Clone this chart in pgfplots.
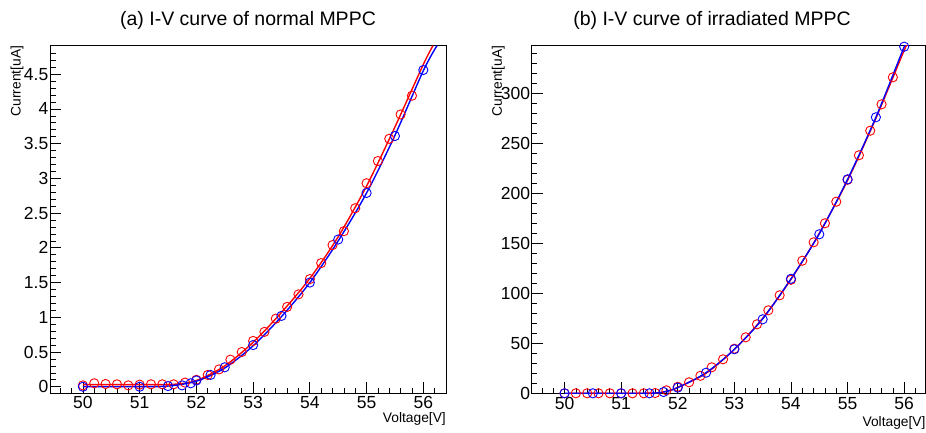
\documentclass[border=0pt]{standalone}
\usepackage{fontspec}
\setmainfont{Liberation Sans}
\usepackage{pgfplots}
\pgfplotsset{compat=1.18}

\pgfplotsset{
  rootstyle/.style={
    scale only axis,
    axis line style={black,line width=0.8pt},
    tick align=inside,
    xtick pos=bottom, ytick pos=left,
    major tick length=11pt, minor tick length=5.5pt,
    every tick/.style={black,line width=0.7pt},
    tick label style={font=\fontsize{17.5}{20}\selectfont},
    /pgf/number format/assume math mode=true,
    /pgf/number format/fixed,
    xticklabel style={inner ysep=0pt,yshift=-3.5pt},
    yticklabel style={inner xsep=1.5pt},
    label style={font=\fontsize{13.8}{16}\selectfont},
    xtick={50,51,52,53,54,55,56},
    minor xtick={49.6,49.8,50.2,50.4,50.6,50.8,51.2,51.4,51.6,51.8,52.2,52.4,52.6,52.8,53.2,53.4,53.6,53.8,54.2,54.4,54.6,54.8,55.2,55.4,55.6,55.8,56.2,56.4},
    xlabel={Voltage[V]}, ylabel={Current[uA]},
  },
  redpts/.style={only marks,mark=o,mark size=4.6pt,red,mark options={line width=0.9pt}},
  bluepts/.style={only marks,mark=o,mark size=4.6pt,blue,mark options={line width=0.9pt}},
  redfit/.style={red,line width=1.4pt,smooth,no marks},
  bluefit/.style={blue,line width=1.4pt,smooth,no marks},
}

\begin{document}
\begin{tikzpicture}
\useasboundingbox (0,0) rectangle (926pt,432pt);

\node[anchor=base,font=\fontsize{19.5}{22}\selectfont] at (248pt,406.7pt) {(a) I-V curve of normal MPPC};
\node[anchor=base,font=\fontsize{19.5}{22}\selectfont] at (712pt,406.7pt) {(b) I-V curve of irradiated MPPC};

% (a) normal
\begin{axis}[rootstyle,
  at={(50pt,39pt)}, anchor=south west,
  width=396pt, height=347.3pt,
  xmin=49.42, xmax=56.40, ymin=-0.09, ymax=4.91,
  ytick={0,0.5,1,1.5,2,2.5,3,3.5,4,4.5},
  minor ytick={0.1,0.2,0.3,0.4,0.6,0.7,0.8,0.9,1.1,1.2,1.3,1.4,1.6,1.7,1.8,1.9,2.1,2.2,2.3,2.4,2.6,2.7,2.8,2.9,3.1,3.2,3.3,3.4,3.6,3.7,3.8,3.9,4.1,4.2,4.3,4.4,4.6,4.7,4.8},
  xlabel style={at={(axis description cs:1,0)},anchor=base east,inner sep=0pt,yshift=-29.5pt},
  ylabel style={at={(axis description cs:-0.0833,1)},anchor=east,inner sep=0pt},
]
\addplot[redfit] coordinates {
  (50,0.03)(51,0.03)(51.6,0.035)(52,0.09)(52.5,0.30)(53,0.64)(53.5,1.07)(54,1.56)
  (54.5,2.16)(55,2.89)(55.5,3.74)(56,4.64)(56.17,4.91)};
\addplot[redpts] coordinates {
  (50,0.02)(50.2,0.05)(50.4,0.04)(50.6,0.035)(50.8,0.02)(51.0,0.03)(51.2,0.035)(51.4,0.035)
  (51.6,0.035)(51.8,0.06)(52.0,0.1)(52.2,0.17)(52.4,0.25)(52.6,0.39)(52.8,0.5)(53.0,0.66)
  (53.2,0.79)(53.4,0.98)(53.6,1.15)(53.8,1.33)(54.0,1.55)(54.2,1.78)(54.4,2.04)(54.6,2.24)
  (54.8,2.57)(55.0,2.93)(55.2,3.25)(55.4,3.57)(55.6,3.92)(55.8,4.19)};
\addplot[bluefit] coordinates {
  (50,0)(51,0)(51.5,0.01)(52,0.08)(52.5,0.27)(53,0.59)(53.5,1.01)(54,1.50)
  (54.5,2.10)(55,2.79)(55.5,3.62)(56,4.55)(56.24,4.91)};
\addplot[bluepts] coordinates {
  (50,0)(51,0)(51.5,0.01)(51.75,0.02)(51.9,0.05)(52,0.09)(52.25,0.17)(52.5,0.28)
  (53,0.60)(53.5,1.02)(54,1.50)(54.5,2.12)(55,2.79)(55.5,3.61)(56,4.56)};
\end{axis}

% (b) irradiated
\begin{axis}[rootstyle,
  at={(531.7pt,38.7pt)}, anchor=south west,
  width=394pt, height=347.6pt,
  xmin=49.42, xmax=56.38, ymin=0, ymax=347.6,
  ytick={0,50,100,150,200,250,300},
  minor ytick={10,20,30,40,60,70,80,90,110,120,130,140,160,170,180,190,210,220,230,240,260,270,280,290,310,320,330,340},
  xlabel style={at={(axis description cs:1,0)},anchor=base east,inner sep=0pt,yshift=-33.5pt},
  ylabel style={at={(axis description cs:-0.0848,1)},anchor=east,inner sep=0pt},
]
\addplot[redfit] coordinates {
  (50.1,0)(51,0)(51.6,0.3)(51.8,2)(52,6)(52.5,20)(53,44)(53.5,75)(54,114)
  (54.5,160)(55,213)(55.5,275)(56,343)(56.05,347.6)};
\addplot[redpts] coordinates {
  (50,0)(50.2,0)(50.4,0)(50.6,0)(50.8,0)(51.0,0)(51.2,0)(51.4,0)(51.6,0.3)(51.8,3)
  (52.0,6.5)(52.2,11)(52.4,17.5)(52.6,26)(52.8,34)(53.0,44.6)(53.2,56)(53.4,69)
  (53.6,83)(53.8,98)(54.0,113.5)(54.2,132.6)(54.4,151)(54.6,170)(54.8,191.6)
  (55.0,213.5)(55.2,238)(55.4,262.6)(55.6,289)(55.8,316)};
\addplot[bluefit] coordinates {
  (50,0)(51,0)(51.5,0)(51.75,1.3)(52,5.7)(52.5,20.6)(53,44)(53.5,74.5)(54,114.5)
  (54.5,159.5)(55,214)(55.5,276)(56,346.6)(56.02,347.6)};
\addplot[bluepts] coordinates {
  (50,0)(50.5,0)(51,0)(51.5,0)(51.75,1.3)(52,5.7)(52.5,20.6)(53,44)(53.5,74)
  (54,114.5)(54.5,159)(55,214)(55.5,276)(56,346.6)};
\end{axis}
\end{tikzpicture}
\end{document}
